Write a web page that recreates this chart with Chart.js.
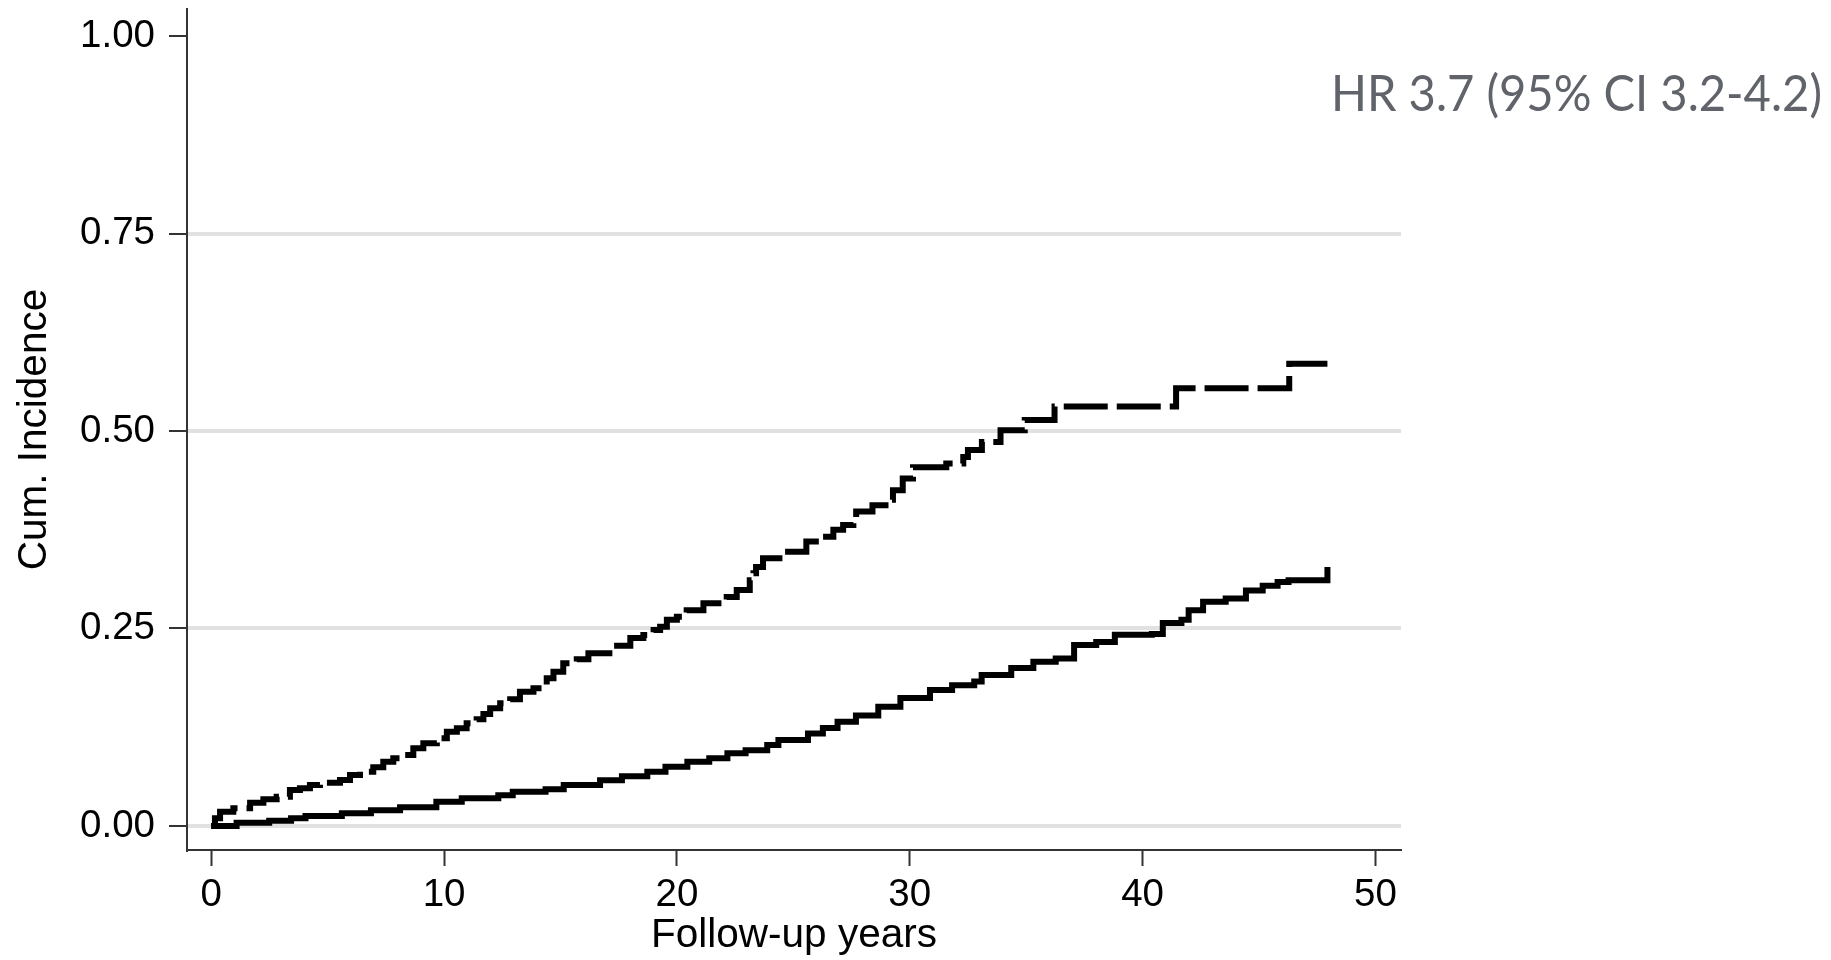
<!DOCTYPE html>
<html>
<head>
<meta charset="utf-8">
<title>Cumulative incidence</title>
<script src="https://cdn.jsdelivr.net/npm/chart.js@4.4.0/dist/chart.umd.min.js"></script>
<style>
  html, body { margin: 0; padding: 0; background: #fff; }
  #wrap { width: 1831px; height: 960px; }
</style>
</head>
<body>
<div id="wrap"><canvas id="chart"></canvas></div>
<script>
// follow-up years and cumulative incidence
const dashedYears = [0, 0.16, 0.38, 0.95, 1.67, 2.24, 2.81, 3.38, 3.81, 4.24, 4.67, 5.53, 5.96, 6.39, 6.96, 7.39, 7.82,
  8.25, 8.68, 9.11, 9.69, 10.12, 10.55, 10.97, 11.4, 11.69, 11.98, 12.41, 12.84, 13.26, 13.84, 14.2, 14.41, 14.7,
  15.12, 15.7, 16.2, 17.1, 18.0, 18.56, 19.0, 19.28, 19.57, 20.0, 20.42, 21.14, 22.14, 22.57, 23.13, 23.29, 23.4,
  23.7, 24.56, 25.56, 26.15, 26.72, 27.14, 27.58, 27.7, 28.4, 29.14, 29.28, 29.7, 30.14, 31.57, 32.3, 32.5, 33.1,
  33.9, 34.94, 36.22, 41.44, 46.3, 47.94];
const dashedInc = [0, 0.0097, 0.018, 0.0224, 0.0295, 0.0338, 0.0371, 0.0456, 0.0477, 0.0519, 0.0548, 0.0582, 0.0646,
  0.0688, 0.0743, 0.0814, 0.0857, 0.0899, 0.0984, 0.1047, 0.111, 0.1194, 0.1237, 0.13, 0.135, 0.1418, 0.149, 0.1553,
  0.1604, 0.17, 0.1743, 0.1785, 0.187, 0.1953, 0.206, 0.211, 0.2186, 0.228, 0.238, 0.2418, 0.248, 0.2523, 0.261, 0.265,
  0.273, 0.282, 0.29, 0.2987, 0.311, 0.32, 0.328, 0.339, 0.347, 0.36, 0.366, 0.375, 0.381, 0.3895, 0.398, 0.406, 0.413,
  0.425, 0.44, 0.454, 0.459, 0.467, 0.476, 0.486, 0.501, 0.514, 0.531, 0.554, 0.585, 0.585];

const solidYears = [0, 1.09, 2.49, 3.43, 4.05, 5.61, 6.86, 8.11, 9.67, 10.76, 12.33, 12.95, 14.36, 15.14, 16.7, 17.64,
  18.73, 19.51, 20.45, 21.39, 22.17, 22.95, 23.88, 24.36, 25.63, 26.27, 26.9, 27.69, 28.65, 29.6, 30.87, 31.82, 32.77,
  33.09, 34.36, 35.31, 36.27, 37.06, 38.01, 38.81, 40.4, 40.87, 41.67, 41.98, 42.6, 43.57, 44.44, 45.16, 45.8, 46.27,
  47.86, 47.94];
const solidInc = [0, 0.0042, 0.0067, 0.0097, 0.0127, 0.016, 0.020, 0.0236, 0.0308, 0.035, 0.039, 0.0434, 0.0464, 0.0519,
  0.058, 0.063, 0.0687, 0.075, 0.0814, 0.0857, 0.092, 0.096, 0.1025, 0.109, 0.117, 0.124, 0.132, 0.14, 0.151, 0.162,
  0.172, 0.178, 0.183, 0.191, 0.2, 0.208, 0.212, 0.229, 0.233, 0.242, 0.243, 0.257, 0.261, 0.273, 0.284, 0.288, 0.298,
  0.304, 0.309, 0.311, 0.311, 0.328];

const xTicks = [0, 10, 20, 30, 40, 50];
const yTicks = [0, 0.25, 0.5, 0.75, 1];
const hrLabel = 'HR 3.7 (95% CI 3.2-4.2)';

const toPoints = (xs, ys) => xs.map((x, i) => ({ x: x, y: ys[i] }));

// HR annotation in the top right corner, squeezed to the width it has in the original
const hrText = {
  id: 'hrText',
  afterDraw(chart) {
    const ctx = chart.ctx;
    ctx.save();
    ctx.font = '50px Lato';
    ctx.fillStyle = '#60646a';
    ctx.textAlign = 'left';
    ctx.textBaseline = 'middle';
    const w = ctx.measureText(hrLabel).width;
    ctx.translate(1331, 95);
    ctx.scale(Math.min(1, 491 / w), 1);
    ctx.fillText(hrLabel, 0, 0);
    ctx.restore();
  }
};

new Chart(document.getElementById('chart'), {
  type: 'line',
  data: {
    datasets: [
      {
        data: toPoints(dashedYears, dashedInc),
        borderColor: '#000',
        borderWidth: 6,
        borderDash: [44, 9],
        stepped: true,
        pointRadius: 0,
        fill: false
      },
      {
        data: toPoints(solidYears, solidInc),
        borderColor: '#000',
        borderWidth: 6,
        stepped: true,
        pointRadius: 0,
        fill: false
      }
    ]
  },
  options: {
    responsive: true,
    maintainAspectRatio: false,
    animation: false,
    layout: { padding: { top: 9, right: 430, left: 0, bottom: 0 } },
    plugins: {
      legend: { display: false },
      tooltip: { enabled: false }
    },
    scales: {
      x: {
        type: 'linear',
        min: -1.04,
        max: 51.1,
        afterBuildTicks: (scale) => { scale.ticks = xTicks.map(v => ({ value: v })); },
        afterFit: (scale) => { scale.height = 110; scale.paddingLeft = 0; scale.paddingRight = 0; },
        grid: { drawOnChartArea: false, drawTicks: true, tickLength: 16, tickColor: '#333', tickWidth: 2 },
        border: { display: true, color: '#333', width: 2 },
        ticks: {
          padding: 6,
          color: '#000',
          font: { family: 'Liberation Sans', size: 38.5 },
          callback: (v) => String(v)
        },
        title: {
          display: true,
          text: 'Follow-up years',
          color: '#000',
          font: { family: 'Liberation Sans', size: 40.5 },
          padding: { top: 0, bottom: 0 }
        }
      },
      y: {
        type: 'linear',
        min: -0.0304,
        max: 1.0342,
        afterBuildTicks: (scale) => { scale.ticks = yTicks.map(v => ({ value: v })); },
        afterFit: (scale) => { scale.width = 187; scale.paddingTop = 0; scale.paddingBottom = 0; },
        grid: {
          color: (c) => (c.tick && c.tick.value === 1 ? 'rgba(0,0,0,0)' : '#e1e1e1'),
          lineWidth: 4,
          tickLength: 18,
          tickColor: '#333',
          tickWidth: 2
        },
        border: { display: true, color: '#333', width: 2 },
        ticks: {
          padding: 14,
          color: '#000',
          font: { family: 'Liberation Sans', size: 38.5 },
          callback: (v) => v.toFixed(2)
        },
        title: {
          display: true,
          text: 'Cum. Incidence',
          color: '#000',
          font: { family: 'Liberation Sans', size: 40.5 },
          padding: { top: 11, bottom: 0 }
        }
      }
    }
  },
  plugins: [hrText]
});
</script>
</body>
</html>
